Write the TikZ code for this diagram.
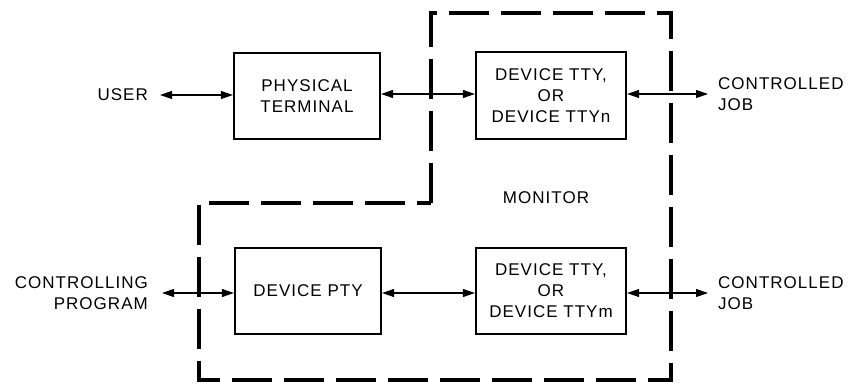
\documentclass[tikz,border=0pt]{standalone}
\usepackage{fontspec}
\setmainfont{Liberation Sans}[LetterSpace=6]
\usetikzlibrary{arrows.meta}
\begin{document}
\begin{tikzpicture}[x=1pt,y=-1pt,
  every node/.style={font=\fontsize{17}{21}\selectfont, text=black},
  blk/.style={draw, line width=2.2pt, inner sep=0pt, align=center},
  lbl/.style={inner sep=0pt, align=center},
  biarrow/.style={line width=1.1pt, {Triangle[length=12pt,width=8pt]}-{Triangle[length=12pt,width=8pt]}},
  boundary/.style={line width=3.8pt, dash pattern=on 40pt off 12pt, line join=miter}
]
\useasboundingbox[fill=white] (0,0) rectangle (852,385);

% boxes
\node[blk, minimum width=146pt, minimum height=86pt] (pt) at (307,96) {PHYSICAL\\TERMINAL};
\node[blk, minimum width=150pt, minimum height=87pt] (ttyn) at (551,95.5) {DEVICE TTY,\\OR\\DEVICE TTYn};
\node[blk, minimum width=146pt, minimum height=86pt] (pty) at (308,291) {DEVICE PTY};
\node[blk, minimum width=150pt, minimum height=86pt] (ttym) at (551,291) {DEVICE TTY,\\OR\\DEVICE TTYm};

% labels
\node[lbl, anchor=east] (user) at (148,95) {USER};
\node[lbl, anchor=east, align=right] (cp) at (148,293.5) {CONTROLLING\\PROGRAM};
\node[lbl, anchor=west, align=left] (cj1) at (718,94) {CONTROLLED\\JOB};
\node[lbl, anchor=west, align=left] (cj2) at (718,293.5) {CONTROLLED\\JOB};
\node[lbl] (mon) at (546,198) {MONITOR};

% monitor boundary
\draw[boundary] (431,203) -- (431,13) -- (671,13) -- (671,380) -- (199,380) -- (199,203) -- cycle;

% connectors
\coordinate (u) at (160,95);
\coordinate (c) at (162,293);
\coordinate (j1) at (708,94);
\coordinate (j2) at (708,293);
\draw[biarrow] (u) -- (u -| pt.west);
\draw[biarrow] (pt.east |- 0,94) -- (ttyn.west |- 0,94);
\draw[biarrow] (ttyn.east |- j1) -- (j1);
\draw[biarrow] (c) -- (c -| pty.west);
\draw[biarrow] (pty.east |- 0,293) -- (ttym.west |- 0,293);
\draw[biarrow] (ttym.east |- j2) -- (j2);
\end{tikzpicture}
\end{document}
